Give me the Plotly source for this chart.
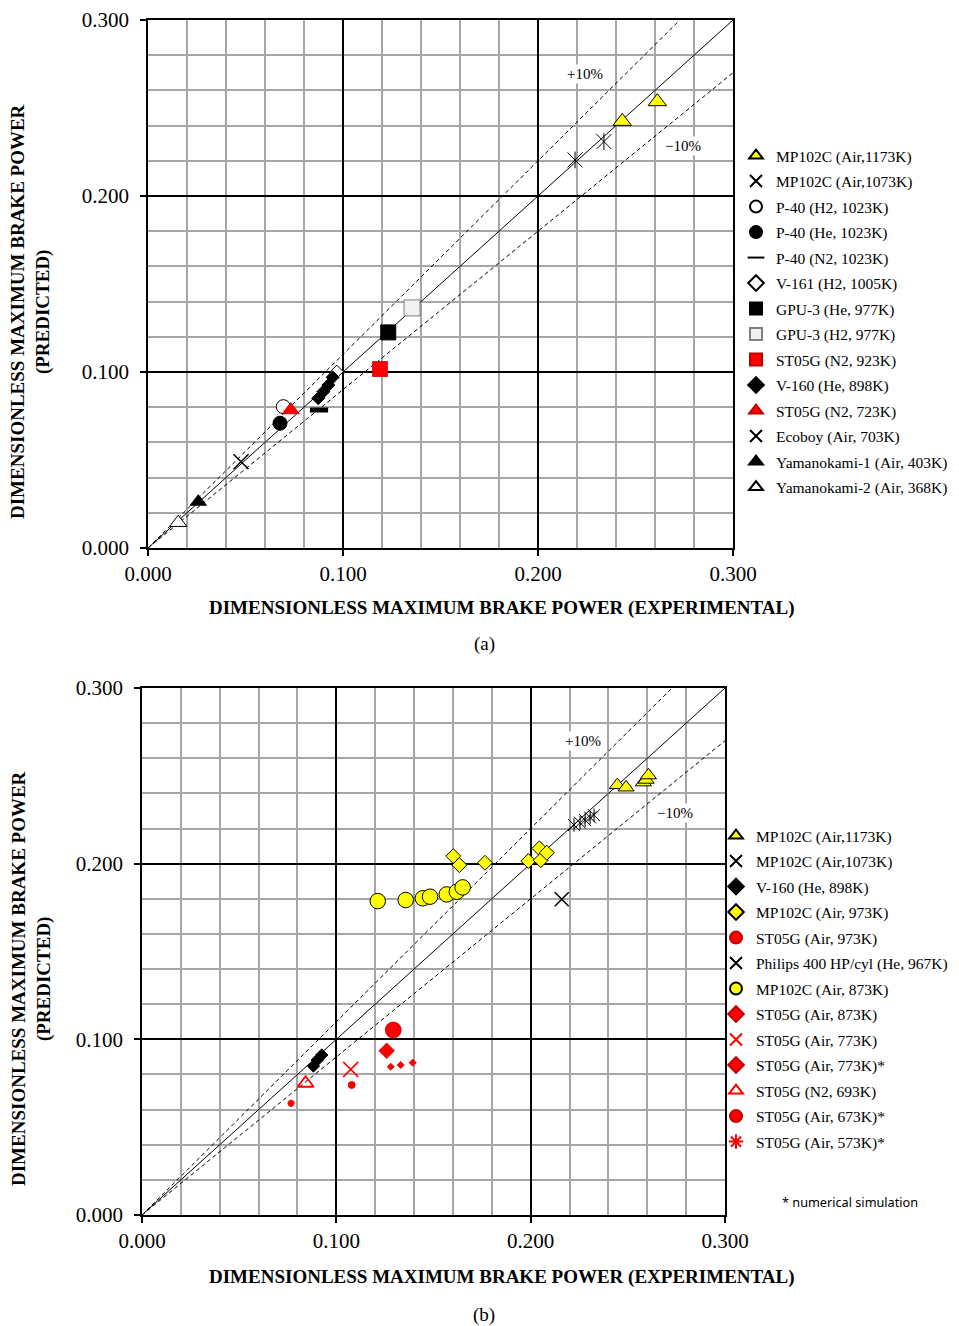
import plotly.graph_objects as go

# page body margin of the browser is 8px: the figure fills the rest of the window
OFF = 8
W, H = 959 - OFF, 1326 - OFF

# ---------------- DATA: panel (a) ----------------
A_MP102C_1173_X = [0.2432, 0.2612]
A_MP102C_1173_Y = [0.2424, 0.2536]
A_MP102C_1073_X = [0.2190, 0.2338]
A_MP102C_1073_Y = [0.2205, 0.2309]
A_P40_H2_X = [0.0694]
A_P40_H2_Y = [0.0803]
A_P40_HE_X = [0.0677]
A_P40_HE_Y = [0.0709]
A_P40_N2_X = [0.0877]
A_P40_N2_Y = [0.0784]
A_V161_H2_X = [0.0968]
A_V161_H2_Y = [0.1002]
A_GPU3_HE_X = [0.1232]
A_GPU3_HE_Y = [0.1225]
A_GPU3_H2_X = [0.1354]
A_GPU3_H2_Y = [0.1364]
A_ST05G_N2_923_X = [0.1190]
A_ST05G_N2_923_Y = [0.1017]
A_V160_HE_X = [0.0947, 0.0925, 0.0899, 0.0873]
A_V160_HE_Y = [0.0970, 0.0926, 0.0888, 0.0851]
A_ST05G_N2_723_X = [0.0732]
A_ST05G_N2_723_Y = [0.0784]
A_ECOBOY_X = [0.0477]
A_ECOBOY_Y = [0.0490]
A_YAMA1_X = [0.0258]
A_YAMA1_Y = [0.0263]
A_YAMA2_X = [0.0155]
A_YAMA2_Y = [0.0144]

# ---------------- DATA: panel (b) ----------------
B_MP102C_1173_X = [0.2446, 0.2491, 0.2580, 0.2594, 0.2606]
B_MP102C_1173_Y = [0.2447, 0.2434, 0.2463, 0.2478, 0.2503]
B_MP102C_1073_X = [0.2223, 0.2254, 0.2280, 0.2306, 0.2326]
B_MP102C_1073_Y = [0.2220, 0.2233, 0.2248, 0.2263, 0.2276]
B_V160_HE_X = [0.0925, 0.0902, 0.0882]
B_V160_HE_Y = [0.0911, 0.0882, 0.0848]
B_MP102C_973_X = [0.1602, 0.1633, 0.1765, 0.1988, 0.2045, 0.2052, 0.2083]
B_MP102C_973_Y = [0.2043, 0.1992, 0.2005, 0.2015, 0.2087, 0.2020, 0.2062]
B_ST05G_973_X = [0.1293]
B_ST05G_973_Y = [0.1053]
B_PHILIPS_X = [0.2160]
B_PHILIPS_Y = [0.1797]
B_MP102C_873_X = [0.1213, 0.1357, 0.1445, 0.1482, 0.1568, 0.1620, 0.1650]
B_MP102C_873_Y = [0.1787, 0.1793, 0.1803, 0.1812, 0.1825, 0.1840, 0.1865]
B_ST05G_873_X = [0.1259]
B_ST05G_873_Y = [0.0935]
B_ST05G_773_X = [0.1074]
B_ST05G_773_Y = [0.0829]
B_ST05G_773S_X = [0.1280, 0.1331, 0.1393]
B_ST05G_773S_Y = [0.0844, 0.0854, 0.0867]
B_ST05G_N2_693_X = [0.0842]
B_ST05G_N2_693_Y = [0.0750]
B_ST05G_673S_X = [0.1079]
B_ST05G_673S_Y = [0.0740]
B_ST05G_573S_X = [0.0767]
B_ST05G_573S_Y = [0.0636]

# reference lines (y = k * x)
REF_FACTORS = [1.0, 1.1, 0.9]
AXIS_MAX = 0.300
TICK_VALUES = [0.0, 0.1, 0.2, 0.3]
TICK_TEXT = ["0.000", "0.100", "0.200", "0.300"]

YEL, RED, DRED = "#FFFF00", "#FF0000", "#C00000"

SERIES_A = [
    ("MP102C (Air,1173K)", A_MP102C_1173_X, A_MP102C_1173_Y, dict(symbol="triangle-up", size=16, color=YEL, line=dict(color="black", width=1))),
    ("MP102C (Air,1073K)", A_MP102C_1073_X, A_MP102C_1073_Y, "ast"),
    ("P-40 (H2, 1023K)", A_P40_H2_X, A_P40_H2_Y, dict(symbol="circle", size=14, color="white", line=dict(color="black", width=1))),
    ("P-40 (He, 1023K)", A_P40_HE_X, A_P40_HE_Y, dict(symbol="circle", size=14, color="black", line=dict(color="black", width=1))),
    ("P-40 (N2, 1023K)", A_P40_N2_X, A_P40_N2_Y, dict(symbol="line-ew", size=13, color="black", line=dict(color="black", width=5))),
    ("V-161 (H2, 1005K)", A_V161_H2_X, A_V161_H2_Y, dict(symbol="diamond", size=10, color="white", line=dict(color="black", width=1))),
    ("GPU-3 (He, 977K)", A_GPU3_HE_X, A_GPU3_HE_Y, dict(symbol="square", size=15, color="black", line=dict(color="black", width=1))),
    ("GPU-3 (H2, 977K)", A_GPU3_H2_X, A_GPU3_H2_Y, dict(symbol="square", size=16, color="#F2F2F2", line=dict(color="#7F7F7F", width=1))),
    ("ST05G (N2, 923K)", A_ST05G_N2_923_X, A_ST05G_N2_923_Y, dict(symbol="square", size=15, color=RED, line=dict(color=DRED, width=0.75))),
    ("V-160 (He, 898K)", A_V160_HE_X, A_V160_HE_Y, dict(symbol="diamond", size=10, color="black", line=dict(color="black", width=1))),
    ("ST05G (N2, 723K)", A_ST05G_N2_723_X, A_ST05G_N2_723_Y, dict(symbol="triangle-up", size=15, color=RED, line=dict(color=DRED, width=0.75))),
    ("Ecoboy (Air, 703K)", A_ECOBOY_X, A_ECOBOY_Y, dict(symbol="x-thin-open", size=15, color="black", line=dict(color="black", width=1.5))),
    ("Yamanokami-1 (Air, 403K)", A_YAMA1_X, A_YAMA1_Y, dict(symbol="triangle-up", size=14, color="black", line=dict(color="black", width=1))),
    ("Yamanokami-2 (Air, 368K)", A_YAMA2_X, A_YAMA2_Y, dict(symbol="triangle-up", size=15, color="white", line=dict(color="black", width=1))),
]

SERIES_B = [
    ("MP102C (Air,1173K)", B_MP102C_1173_X, B_MP102C_1173_Y, dict(symbol="triangle-up", size=14, color=YEL, line=dict(color="black", width=1))),
    ("MP102C (Air,1073K)", B_MP102C_1073_X, B_MP102C_1073_Y, "ast"),
    ("V-160 (He, 898K)", B_V160_HE_X, B_V160_HE_Y, dict(symbol="diamond", size=9.5, color="black", line=dict(color="black", width=1))),
    ("MP102C (Air, 973K)", B_MP102C_973_X, B_MP102C_973_Y, dict(symbol="diamond", size=11.5, color=YEL, line=dict(color="black", width=1))),
    ("ST05G (Air, 973K)", B_ST05G_973_X, B_ST05G_973_Y, dict(symbol="circle", size=16, color=RED, line=dict(color=DRED, width=0.75))),
    ("Philips 400 HP/cyl (He, 967K)", B_PHILIPS_X, B_PHILIPS_Y, dict(symbol="x-thin-open", size=14, color="black", line=dict(color="black", width=1.5))),
    ("MP102C (Air, 873K)", B_MP102C_873_X, B_MP102C_873_Y, dict(symbol="circle", size=15.5, color=YEL, line=dict(color="black", width=1))),
    ("ST05G (Air, 873K)", B_ST05G_873_X, B_ST05G_873_Y, dict(symbol="diamond", size=12, color=RED, line=dict(color=DRED, width=0.75))),
    ("ST05G (Air, 773K)", B_ST05G_773_X, B_ST05G_773_Y, dict(symbol="x-thin-open", size=15, color=RED, line=dict(color=RED, width=1.5))),
    ("ST05G (Air, 773K)*", B_ST05G_773S_X, B_ST05G_773S_Y, dict(symbol="diamond", size=5.5, color=RED, line=dict(color=DRED, width=0.75))),
    ("ST05G (N2, 693K)", B_ST05G_N2_693_X, B_ST05G_N2_693_Y, dict(symbol="triangle-up-open", size=14, color=RED, line=dict(color=RED, width=1.8))),
    ("ST05G (Air, 673K)*", B_ST05G_673S_X, B_ST05G_673S_Y, dict(symbol="circle", size=7, color=RED, line=dict(color=DRED, width=0.75))),
    ("ST05G (Air, 573K)*", B_ST05G_573S_X, B_ST05G_573S_Y, dict(symbol="asterisk-open", size=6, color=RED, line=dict(color=RED, width=2))),
]

SERIF = "Liberation Serif, Times New Roman, serif"
fig = go.Figure()


def add_panel(series, xa, ya, legend, ast_size):
    # reference lines
    for k in REF_FACTORS:
        xe = min(AXIS_MAX, AXIS_MAX / k)
        fig.add_trace(go.Scatter(
            x=[0, xe], y=[0, k * xe], mode="lines", xaxis=xa, yaxis=ya,
            line=dict(color="black", width=1, dash="solid" if k == 1.0 else "4px,3px"),
            showlegend=False, hoverinfo="skip"))
    for i, (name, xs, ys, mk) in enumerate(series):
        grp = f"{legend}_{i}"
        if mk == "ast":
            fig.add_trace(go.Scatter(
                x=xs, y=ys, mode="markers", name=name, legend=legend, legendgroup=grp,
                xaxis=xa, yaxis=ya,
                marker=dict(symbol="x-thin-open", size=ast_size, color="black", line=dict(color="black", width=1))))
            fig.add_trace(go.Scatter(
                x=xs, y=ys, mode="markers", showlegend=False, legendgroup=grp,
                xaxis=xa, yaxis=ya,
                marker=dict(symbol="line-ns-open", size=ast_size * 0.8, color="black", line=dict(color="black", width=1))))
        else:
            fig.add_trace(go.Scatter(
                x=xs, y=ys, mode="markers", name=name, legend=legend, legendgroup=grp,
                xaxis=xa, yaxis=ya, marker=mk))


add_panel(SERIES_A, "x", "y", "legend", 15)
add_panel(SERIES_B, "x2", "y2", "legend2", 12)


def axis(domain, anchor, is_x):
    return dict(
        domain=domain, anchor=anchor, range=[0, AXIS_MAX], automargin=False,
        tickmode="array", tickvals=TICK_VALUES, ticktext=TICK_TEXT,
        showgrid=True, gridcolor="black", gridwidth=1.5,
        minor=dict(dtick=0.02, tick0=0, showgrid=True, gridcolor="#A6A6A6", gridwidth=1.5, ticks=""),
        showline=True, linecolor="black", linewidth=1.5, mirror=True,
        ticks="outside", ticklen=6, tickwidth=1.5, tickcolor="black",
        tickfont=dict(family=SERIF, size=21, color="black"),
        ticklabelstandoff=0 if is_x else 7,
        zeroline=False, fixedrange=True,
    )


# convert reference-screen pixel positions to paper fractions
def px(x):
    return (x - OFF) / W


def py(y):
    return 1 - (y - OFF) / H


LEG_FONT = dict(family=SERIF, size=15.5, color="black")
lay = dict(
    width=W, height=H, margin=dict(l=0, r=0, t=0, b=0, autoexpand=False),
    paper_bgcolor="white", plot_bgcolor="white", showlegend=True,
    xaxis=axis([px(148), px(733)], "y", True),
    yaxis=axis([py(548), py(20)], "x", False),
    xaxis2=axis([px(142), px(725)], "y2", True),
    yaxis2=axis([py(1215), py(688)], "x2", False),
    legend=dict(x=px(736), y=py(139), xanchor="left", yanchor="top", font=LEG_FONT,
                bgcolor="rgba(0,0,0,0)", tracegroupgap=2.35, traceorder="grouped",
                itemsizing="constant"),
    legend2=dict(x=px(716), y=py(819), xanchor="left", yanchor="top", font=LEG_FONT,
                 bgcolor="rgba(0,0,0,0)", tracegroupgap=2.35, traceorder="grouped",
                 itemsizing="constant"),
)

XT = "DIMENSIONLESS MAXIMUM BRAKE POWER (EXPERIMENTAL)"
YT = "DIMENSIONLESS MAXIMUM BRAKE POWER<br>(PREDICTED)"
C = dict(xref="paper", yref="paper", showarrow=False, xanchor="center", yanchor="middle")
ann = []
bold = dict(family=SERIF, size=19, color="black")
ann.append(dict(text=f"<b>{XT}</b>", x=px(502), y=py(608), font=bold, **C))
ann.append(dict(text=f"<b>{XT}</b>", x=px(502), y=py(1277), font=bold, **C))
ann.append(dict(text=f"<b>{YT}</b>", x=px(31), y=py(312), font=bold, textangle=-90, **C))
ann.append(dict(text=f"<b>{YT}</b>", x=px(31), y=py(979), font=bold, textangle=-90, **C))
ann.append(dict(text="(a)", x=px(484), y=py(644), font=dict(family=SERIF, size=19, color="black"), **C))
ann.append(dict(text="(b)", x=px(484), y=py(1315), font=dict(family=SERIF, size=19, color="black"), **C))
pct = dict(family=SERIF, size=15, color="black")
D = dict(showarrow=False, xanchor="center", yanchor="middle", bgcolor="white", font=pct)
ann.append(dict(text="+10%", x=0.2241, y=0.2691, xref="x", yref="y", **D))
ann.append(dict(text="\u221210%", x=0.2745, y=0.2284, xref="x", yref="y", **D))
ann.append(dict(text="+10%", x=0.2268, y=0.2700, xref="x2", yref="y2", **D))
ann.append(dict(text="\u221210%", x=0.2743, y=0.2286, xref="x2", yref="y2", **D))
ann.append(dict(text="* numerical simulation", x=px(850), y=py(1202),
                font=dict(family="Noto Sans, sans-serif", size=12.7, color="black"), **C))
lay["annotations"] = ann

fig.update_layout(**lay)
fig.write_html("out.html")
